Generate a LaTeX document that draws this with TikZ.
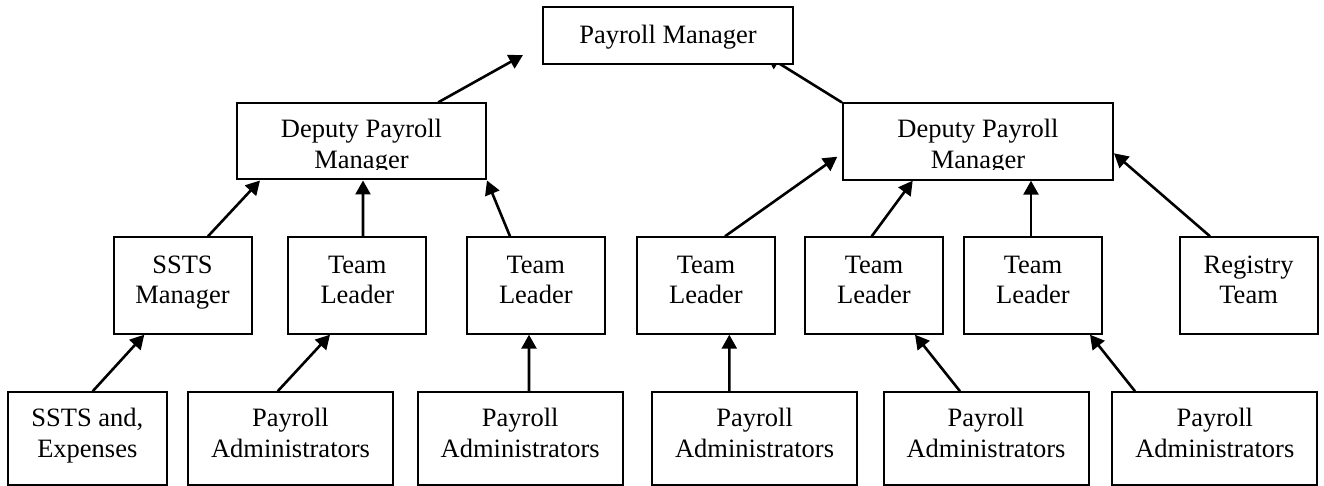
\documentclass[tikz,border=0pt]{standalone}
\usepackage{fontspec}
\setmainfont{Liberation Serif}
\usetikzlibrary{arrows.meta,backgrounds}
\newcommand\boxlines[1]{\vtop{\halign{\hfil##\hfil\cr#1\crcr}}}
\begin{document}
\begin{tikzpicture}[x=0.5pt,y=-0.5pt,
  box/.style={draw,line width=1pt,fill=white,rectangle,inner sep=0pt,
    font=\fontsize{13.25}{15.3}\selectfont},
  rowA/.style={box,minimum height=28.5pt,text height=18pt,text depth=10.5pt},
  rowB/.style={box,minimum height=38.1pt,text height=17.2pt,text depth=20.9pt},
  rowC/.style={box,minimum width=69pt,minimum height=48.2pt,text height=18pt,text depth=30.2pt},
  rowD/.style={box,minimum width=102.5pt,minimum height=46.35pt,text height=17.2pt,text depth=29.15pt},
  cutoff/.style={fill=white},
  conn/.style={line width=1.3pt,-{Triangle[length=7pt,width=7.5pt]}}]
\useasboundingbox (0,0) rectangle (1324,486);

% top
\node[rowA,minimum width=125pt] (PM) at (668,35.8) {Payroll Manager};
% deputies
\node[rowB,minimum width=124.5pt] (DL) at (361.5,141.4) {\boxlines{Deputy Payroll\cr Manager}};
\node[rowB,minimum width=135pt] (DR) at (978,141.6) {\boxlines{Deputy Payroll\cr Manager}};
% the text of the deputy boxes is cut off above the bottom border
\fill[cutoff] ([shift={(2.2,-10.5)}]DL.south west) rectangle ([shift={(-2.2,-2)}]DL.south east);
\fill[cutoff] ([shift={(2.2,-10.5)}]DR.south west) rectangle ([shift={(-2.2,-2)}]DR.south east);
% third row
\node[rowC] (SM)  at (182.5,285.5) {\boxlines{SSTS\cr Manager}};
\node[rowC] (TL1) at (357.3,285.5) {\boxlines{Team\cr Leader}};
\node[rowC] (TL2) at (535.8,285.5) {\boxlines{Team\cr Leader}};
\node[rowC] (TL3) at (706,285.5)   {\boxlines{Team\cr Leader}};
\node[rowC] (TL4) at (874,285.5)   {\boxlines{Team\cr Leader}};
\node[rowC] (TL5) at (1033,285.5)  {\boxlines{Team\cr Leader}};
\node[rowC] (RT)  at (1248.6,285.5) {\boxlines{Registry\cr Team}};
% bottom row
\node[rowD,minimum width=79.35pt] (SE) at (87.3,438.6) {\boxlines{SSTS and,\cr Expenses}};
\node[rowD] (PA1) at (290.5,438.6)  {\boxlines{Payroll\cr Administrators}};
\node[rowD] (PA2) at (520.2,438.6)  {\boxlines{Payroll\cr Administrators}};
\node[rowD] (PA3) at (754.6,438.6)  {\boxlines{Payroll\cr Administrators}};
\node[rowD] (PA4) at (986,438.6)    {\boxlines{Payroll\cr Administrators}};
\node[rowD] (PA5) at (1214.8,438.6) {\boxlines{Payroll\cr Administrators}};

\begin{scope}[on background layer]
\draw[conn] ([shift={(5.4,0)}]SE.north)    -- ([shift={(-38.2,0)}]SM.south);
\draw[conn] ([shift={(-12.8,0)}]PA1.north) -- ([shift={(-27.3,0)}]TL1.south);
\draw[conn] ([shift={(8.8,0)}]PA2.north)   -- ([shift={(-6.8,0)}]TL2.south);
\draw[conn] ([shift={(-25.3,0)}]PA3.north) -- ([shift={(23.3,0)}]TL3.south);
\draw[conn] ([shift={(-26,0)}]PA4.north)   -- ([shift={(41,0)}]TL4.south);
\draw[conn] ([shift={(-79.8,0)}]PA5.north) -- ([shift={(57,0)}]TL5.south);

\draw[conn] ([shift={(25.5,0)}]SM.north)   -- ([shift={(-101.5,0)}]DL.south);
\draw[conn] ([shift={(5.7,0)}]TL1.north)   -- ([shift={(1.5,0)}]DL.south);
\draw[conn] ([shift={(-25.8,0)}]TL2.north) -- (DL.south east);

\draw[conn] ([shift={(19,0)}]TL3.north)    -- ([shift={(-4.7,15.1)}]DR.west);
\draw[conn] ([shift={(-2.3,0)}]TL4.north)  -- ([shift={(-65.3,0)}]DR.south);
\draw[conn] ([shift={(-2,0)}]TL5.north)    -- ([shift={(53,0)}]DR.south);
\draw[conn] ([shift={(-38.6,0)}]RT.north)  -- ([shift={(0,11.7)}]DR.east);

\draw[conn] ([shift={(76.8,0)}]DL.north)   -- ([shift={(-19,19.2)}]PM.west);
\draw[conn] (DR.north west)                -- ([shift={(-28,-10)}]PM.south east);
\end{scope}
\end{tikzpicture}
\end{document}
